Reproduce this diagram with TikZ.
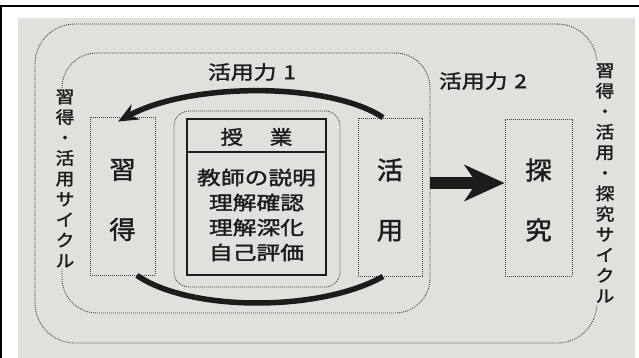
\documentclass[tikz,border=0pt]{standalone}
\usepackage{fontspec}
\newfontfamily\jp{Noto Sans CJK JP}[FakeBold=1.6]
\usetikzlibrary{arrows.meta}
\definecolor{bg}{RGB}{224,224,220}
\definecolor{ink}{RGB}{28,28,28}
\definecolor{dots}{RGB}{60,60,60}
\tikzset{
  dotline/.style={draw=dots, line width=0.9pt, dash pattern=on 0.9pt off 1.1pt},
  dotbox/.style={dotline, rectangle, inner sep=0pt},
  jtext/.style={font=\jp, text=ink, inner sep=0pt},
  vtext/.style={jtext, fill=bg, inner sep=2pt, align=center,
    font=\jp\fontsize{17}{20.5}\selectfont, xscale=1.1},
  bigtext/.style={jtext, align=center, font=\jp\fontsize{25}{60}\selectfont, xscale=1.05},
  labtext/.style={jtext, font=\jp\fontsize{19}{20}\selectfont, xscale=1.2},
  flow/.style={draw=ink, line width=5.5pt},
}
\begin{document}
\begin{tikzpicture}[x=1pt,y=-1pt]
\useasboundingbox (0,0) rectangle (639,358);
\fill[white] (0,0) rectangle (639,358);
\fill[bg] (18,18) rectangle (635,358);
\draw[black, line width=2pt] (0,6) -- (639,6);
\draw[black, line width=2pt] (1,6) -- (1,358);

% cycles
\node[dotbox, rounded corners=40pt, minimum width=562pt, minimum height=319pt] (cycle2) at (316,183.5) {};
\node[dotbox, rounded corners=35pt, minimum width=368pt, minimum height=260pt] (cycle1) at (246,183) {};
\node[dotbox, rounded corners=15pt, minimum width=166pt, minimum height=176pt] (lesson) at (257,199) {};

% boxes
\node[dotbox, minimum width=65pt, minimum height=158pt] (shutoku) at (122.5,196) {};
\node[dotbox, minimum width=64pt, minimum height=158pt] (katsuyo) at (390,197) {};
\node[dotbox, minimum width=67pt, minimum height=157pt] (tankyu) at (538.5,197.5) {};
\node[bigtext] (shutokuT) at (122.5,200) {習\\得};
\node[bigtext] (katsuyoT) at (390,200) {活\\用};
\node[bigtext] (tankyuT) at (538.5,200) {探\\究};

% lesson box
\node[draw=ink, line width=1.2pt, minimum width=139pt, minimum height=156pt, inner sep=0pt] (jugyo) at (256.5,197) {};
\draw[ink, line width=1.2pt] (jugyo.west |- 0,152) -- (jugyo.east |- 0,152);
\node[jtext, font=\jp\fontsize{19.5}{20}\selectfont, xscale=1.15] (jugyoH) at (256.5,137) {授\hspace{1.2em}業};
\node[jtext, align=center, font=\jp\fontsize{19}{25}\selectfont, xscale=1.25] (jugyoB) at (256.5,215)
  {教師の説明\\理解確認\\理解深化\\自己評価};

% labels
\node[labtext] (ryoku1) at (252,72) {活用力\hspace{0.3em}1};
\node[labtext] (ryoku2) at (483,81) {活用力\hspace{0.3em}2};
\node[vtext] (leftcyc) at (65,178.5) {習\\得\\・\\活\\用\\サ\\イ\\ク\\ル};
\node[vtext] (rightcyc) at (605,183) {習\\得\\・\\活\\用\\・\\探\\究\\サ\\イ\\ク\\ル};

% flows
\draw[flow, -{Stealth[length=20pt,width=17pt]}] ([xshift=-7pt]katsuyo.north)
  .. controls (330,82) and (190,82) .. ([xshift=-4.5pt,yshift=-5pt]shutoku.north);
\draw[flow] ([xshift=14.5pt]shutoku.south)
  .. controls (190,312) and (320,312) .. ([xshift=-7pt]katsuyo.south);
\draw[ink, line width=12pt, -{Stealth[length=40pt,width=36pt,inset=12pt]}]
  (cycle1.east) -- (cycle1.east -| tankyu.west);
\end{tikzpicture}
\end{document}
